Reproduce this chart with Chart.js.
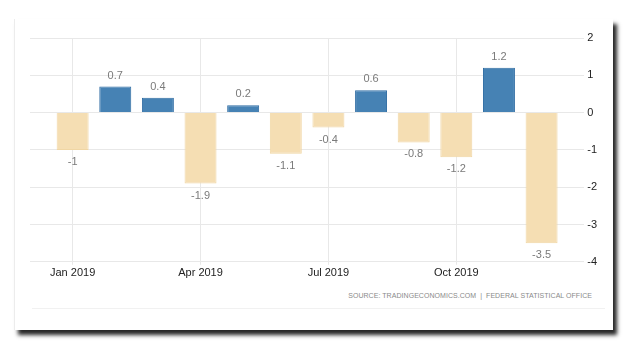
<!DOCTYPE html>
<html>
<head>
<meta charset="utf-8">
<script src="https://cdn.jsdelivr.net/npm/chart.js@4/dist/chart.umd.min.js"></script>
<style>
  html, body { margin: 0; padding: 0; background: #ffffff; }
  body { width: 630px; height: 350px; position: relative; overflow: hidden; }
  #card {
    position: absolute; left: 14px; top: 19px; width: 598px; height: 311px;
    background: #fff; border-left: 1px solid #ececec;
    box-shadow: 4px 5px 4px rgba(0,0,0,0.85);
  }
  #sep { position: absolute; left: 32px; top: 308px; width: 573px; height: 1px; background: #f1f1f1; }
  #source {
    position: absolute; right: 38px; top: 292px;
    font-family: "Liberation Sans", Arial, sans-serif; font-size: 7px; letter-spacing: 0.05px;
    color: #8a8a8a; white-space: nowrap;
  }
  #wrap { position: absolute; left: 0; top: 0; width: 630px; height: 350px; }
</style>
</head>
<body>
<div id="card"></div>
<div id="sep"></div>
<div id="source">SOURCE: TRADINGECONOMICS.COM&nbsp; | &nbsp;FEDERAL STATISTICAL OFFICE</div>
<div id="wrap"><canvas id="c" width="630" height="350"></canvas></div>
<script>
const months = ['Jan 2019','Feb 2019','Mar 2019','Apr 2019','May 2019','Jun 2019',
                'Jul 2019','Aug 2019','Sep 2019','Oct 2019','Nov 2019','Dec 2019'];
const values = [-1, 0.7, 0.4, -1.9, 0.2, -1.1, -0.4, 0.6, -0.8, -1.2, 1.2, -3.5];
const xTickLabels = ['Jan 2019','Apr 2019','Jul 2019','Oct 2019'];
const yTicks = [2, 1, 0, -1, -2, -3, -4];

const posFill = '#4682b4', posBorder = '#2f6ca3';
const negFill = '#f5deb3', negBorder = '#f0d6a4';

const points = values.map((v, i) => ({ x: i, y: v }));
const xTickIdx = xTickLabels.map(l => months.indexOf(l));

const valueLabels = {
  id: 'valueLabels',
  afterDatasetsDraw(chart) {
    const ctx = chart.ctx;
    const meta = chart.getDatasetMeta(0);
    ctx.save();
    ctx.font = '11px "Liberation Sans", Arial, sans-serif';
    ctx.fillStyle = '#7a7a7a';
    ctx.textAlign = 'center';
    ctx.textBaseline = 'middle';
    meta.data.forEach((el, i) => {
      const v = values[i];
      const y = v >= 0 ? el.y - 11 : el.y + 12;
      ctx.fillText(String(v), el.x, y);
    });
    ctx.restore();
  }
};

new Chart(document.getElementById('c'), {
  type: 'bar',
  data: {
    datasets: [{
      data: points,
      backgroundColor: values.map(v => v >= 0 ? posFill : negFill),
      borderColor: values.map(v => v >= 0 ? posBorder : negBorder),
      borderWidth: 1,
      categoryPercentage: 1,
      barPercentage: 0.75
    }]
  },
  options: {
    responsive: false,
    animation: false,
    layout: { padding: { left: 30, top: 38, right: 30, bottom: 68 } },
    plugins: { legend: { display: false }, tooltip: { enabled: false } },
    scales: {
      x: {
        type: 'linear',
        offset: false,
        min: -1, max: months.length,
        afterBuildTicks(scale) { scale.ticks = xTickIdx.map(v => ({ value: v })); },
        ticks: {
          autoSkip: false, maxRotation: 0, padding: 2,
          color: '#222222',
          font: { family: '"Liberation Sans", Arial, sans-serif', size: 11 },
          callback: (val) => months[val]
        },
        grid: { offset: false, color: '#e8e8e8', tickLength: 3, drawTicks: true },
        border: { display: false }
      },
      y: {
        position: 'right',
        min: yTicks[yTicks.length - 1], max: yTicks[0],
        afterBuildTicks(scale) { scale.ticks = yTicks.map(v => ({ value: v })); },
        ticks: {
          padding: 3,
          color: '#222222',
          font: { family: '"Liberation Sans", Arial, sans-serif', size: 11 },
          callback: (v) => String(v)
        },
        grid: { color: '#e8e8e8', drawTicks: false },
        border: { display: false }
      }
    }
  },
  plugins: [valueLabels]
});
</script>
</body>
</html>
